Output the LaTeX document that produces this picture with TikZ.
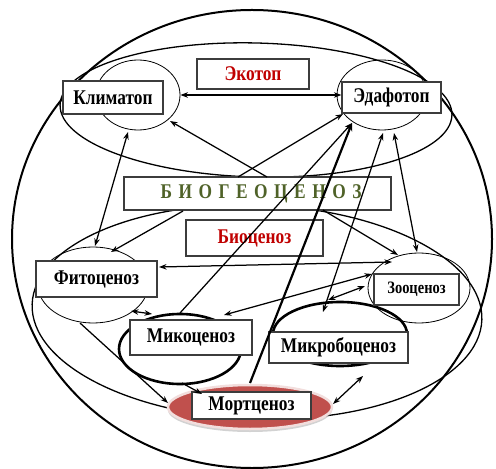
\documentclass[tikz,border=0pt]{standalone}
\usepackage{fontspec}
\setmainfont{Liberation Serif}[FakeStretch=0.83]
\usetikzlibrary{arrows.meta,shapes.geometric,shadows}
\definecolor{redt}{RGB}{192,0,0}
\definecolor{greent}{RGB}{79,98,40}
\definecolor{mortred}{RGB}{192,80,77}
\definecolor{mortedge}{RGB}{242,222,221}
\definecolor{boxedge}{RGB}{60,60,60}
\newcommand\lsp{\hspace{6.5bp}}
\begin{document}
\begin{tikzpicture}[x=1bp,y=-1bp,
  box/.style={draw=boxedge, line width=1.2bp, fill=white, inner sep=0pt,
    font=\bfseries\fontsize{21}{21}\selectfont},
  ell/.style={ellipse, draw, line width=0.8bp, inner sep=0pt},
  thickell/.style={ell, line width=2.6bp},
  tip/.tip={Stealth[length=7.5bp,width=5.5bp]},
  link/.style={line width=1.25bp, -tip},
  both/.style={line width=1.25bp, tip-tip},
  thicklink/.style={line width=2.2bp, -{Stealth[length=8bp,width=6.5bp]}}]
\useasboundingbox (0,0) rectangle (496,469);

% outer envelopes
\draw[line width=2bp] (252,239) ellipse [x radius=240, y radius=229];
\draw[line width=1.3bp, rotate around={-1.5:(256,110)}] (256,110) ellipse [x radius=196, y radius=67];
\draw[line width=1.3bp, rotate around={-2:(257,312)}] (257,312) ellipse [x radius=225, y radius=107];

% ellipses of the components
\node[ell, minimum width=84bp, minimum height=70bp] (klimE) at (138,95) {};
\node[ell, minimum width=90bp, minimum height=70bp] (edafE) at (382,95) {};
\node[ell, minimum width=110bp, minimum height=76bp] (fitoE) at (93,285) {};
\node[ell, minimum width=102bp, minimum height=70bp] (zooE) at (419,288) {};
\node[thickell, minimum width=122bp, minimum height=70bp] (mikoE) at (180,349) {};
\node[thickell, minimum width=134bp, minimum height=64bp] (mikrE) at (340,334) {};
\node[ellipse, inner sep=0pt, minimum width=164bp, minimum height=44bp,
  fill=mortred, draw=mortedge, line width=2.5bp,
  drop shadow={shadow xshift=0bp, shadow yshift=-3bp, fill=black!35, opacity=0.5}] (mortE) at (250,407) {};

% boxes
\node[box, minimum width=100bp, minimum height=33bp] (klim) at (113,97.5) {Климатоп};
\node[box, minimum width=99bp, minimum height=31bp] (edaf) at (391.5,97.5) {Эдафотоп};
\node[box, minimum width=112bp, minimum height=30bp, text=redt] (ekot) at (253,74) {Экотоп};
\node[box, minimum width=267bp, minimum height=33bp, text=greent] (bgc) at (257.5,193.5)
  {\hspace{7bp}Б\lsp И\lsp О\lsp Г\lsp Е\lsp О\lsp Ц\lsp Е\lsp Н\lsp О\lsp З};
\node[box, minimum width=137bp, minimum height=36bp, text=redt] (bioc) at (254.5,238) {Биоценоз};
\node[box, minimum width=121bp, minimum height=36bp] (fito) at (96.5,279) {Фитоценоз};
\node[box, minimum width=85bp, minimum height=31bp, font=\bfseries\fontsize{17.5}{17.5}\selectfont] (zoo) at (416.5,289.5) {Зооценоз};
\node[box, minimum width=122bp, minimum height=35bp] (miko) at (191,337.5) {Микоценоз};
\node[box, minimum width=139bp, minimum height=31bp] (mikr) at (338.5,347.5) {Микробоценоз};
\node[box, minimum width=119bp, minimum height=27bp] (mort) at (251.5,405.5) {Мортценоз};

% connector end points
\coordinate (bgT1) at (267,177);
\coordinate (bgT2) at (238,177);
\coordinate (bgB1) at (183,211);
\coordinate (bgB2) at (323,210);
\coordinate (klimB) at (170,121);
\coordinate (klimB2) at (128,132);
\coordinate (edafL) at (343,114);
\coordinate (edafB1) at (352,123);
\coordinate (edafB2) at (383,133);
\coordinate (edafB3) at (394,133);
\coordinate (fitoT1) at (95,246);
\coordinate (fitoT2) at (111,252);
\coordinate (fitoR) at (159,267);
\coordinate (fitoRB) at (131,311);
\coordinate (fitoBL) at (80,323);
\coordinate (zooT1) at (398,255);
\coordinate (zooT2) at (417,252);
\coordinate (zooL1) at (392,262);
\coordinate (zooL2) at (372,274);
\coordinate (zooL3) at (365,286);
\coordinate (mikoT) at (180,313);
\coordinate (mikoL) at (152,314);
\coordinate (mikoR) at (224,315);
\coordinate (mikoB) at (182,383);
\coordinate (mikrT1) at (328,300);
\coordinate (mikrT2) at (323,312);
\coordinate (mikrB) at (363,376);
\coordinate (mortT) at (250,383);
\coordinate (mortL) at (168,403);
\coordinate (mortTL) at (202,394);
\coordinate (mortR) at (333,404);

% connectors
\draw[both] (klimE.east) -- (klimE.east -| edaf.west);
\draw[link] (bgT1) -- (klimB);
\draw[link] (bgT2) -- (edafL);
\draw[both] (klimB2) -- (fitoT1);
\draw[link] (bgB1) -- (fitoT2);
\draw[link] (mikoT) -- (edafB1);
\draw[thicklink] (mortT) -- (edafB1);
\draw[both] (edafB2) -- (mikrT2);
\draw[both] (edafB3) -- (zooT2);
\draw[link] (bgB2) -- (zooT1);
\draw[both] (fitoR) -- (zooL1);
\draw[both] (mikoR) -- (zooL2);
\draw[both] (mikrT1) -- (zooL3);
\draw[both] (fitoRB) -- (mikoL);
\draw[link] (fitoBL) -- (mortL);
\draw[link] (mikoB) -- (mortTL);
\draw[both] (mortR) -- (mikrB);
\end{tikzpicture}
\end{document}
